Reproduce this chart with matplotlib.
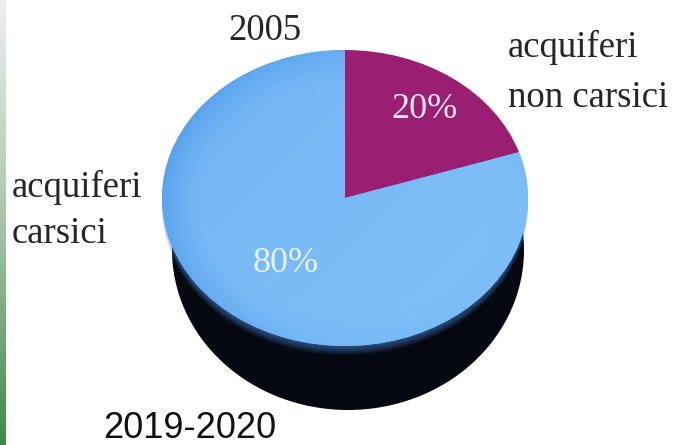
import numpy as np
import matplotlib
matplotlib.use("Agg")
import matplotlib.pyplot as plt
from matplotlib.patches import Ellipse
from matplotlib.colors import LinearSegmentedColormap

# Data
categories = ["acquiferi non carsici", "acquiferi carsici"]
values = [20, 80]
year_label = "2005"
period_label = "2019-2020"

W, H = 677, 445
fig = plt.figure(figsize=(W / 100, H / 100), dpi=100)
fig.patch.set_facecolor("white")

# Background layer in pixel coordinates: side strip and texts
bg = fig.add_axes([0, 0, 1, 1])
bg.set_xlim(0, W)
bg.set_ylim(H, 0)
bg.axis("off")

# green vertical strip at the left edge
strip_cmap = LinearSegmentedColormap.from_list("strip", ["#eef0ee", "#a9c4a9", "#3d8a45"])
grad = np.linspace(0, 1, 256).reshape(-1, 1)
bg.imshow(grad, cmap=strip_cmap, extent=(0, 6, H, 0), aspect="auto", zorder=1)

# Pie geometry (pixels): top face centre/radii and the base outline
cx, cy, rx, ry = 345, 198, 183, 148
bx, by, brx, bry = 348, 250, 176, 160
bottom = by + bry
pax = fig.add_axes([(cx - rx) / W, 1 - bottom / H,
                    2 * rx / W, (bottom - (cy - ry)) / H])
pax.patch.set_alpha(0)

magenta = "#9a1f73"
blue = "#74b6f5"
side = "#060912"

wedges, _ = pax.pie(values, colors=[magenta, blue], startangle=90,
                    counterclock=False, radius=1,
                    wedgeprops=dict(linewidth=0))
for w in wedges:
    w.set_zorder(4)
pax.set_aspect("auto")
ylo = -(bottom - cy) / ry

# cylinder side, seen below the top face
base = Ellipse(((bx - cx) / rx, -(by - cy) / ry), 2 * brx / rx, 2 * bry / ry,
               facecolor=side, edgecolor="none", zorder=1)
pax.add_patch(base)
# soft bluish glow where the top face meets the side
for k in range(1, 7):
    pax.add_patch(Ellipse((0, -k * 0.01), 2, 2, facecolor="#4a88d6",
                          edgecolor="none", alpha=0.11, zorder=2))

# gentle shading on the blue top surface
n = 300
xx, yy = np.meshgrid(np.linspace(-1, 1, n), np.linspace(1, -1, n))
rr = np.sqrt(xx ** 2 + yy ** 2)
shade = np.clip(0.64 + 0.12 * xx - 0.10 * yy - 0.30 * np.clip(rr - 0.8, 0, None) / 0.2
                * (0.6 - 0.4 * xx), 0, 1)
blue_cmap = LinearSegmentedColormap.from_list("b", ["#4895e6", "#74b6f5", "#88c6fa"])
im = pax.imshow(shade, cmap=blue_cmap, extent=(-1, 1, -1, 1), aspect="auto",
                zorder=4.5, vmin=0, vmax=1)
im.set_clip_path(wedges[1])
pax.set_xlim(-1, 1)
pax.set_ylim(ylo, 1)
pax.axis("off")

# percentage labels placed along each wedge's mid angle
pct_dist = [0.74, 0.55]
pct_colors = ["#f3e2f0", "#e6f3fb"]
for w, v, r, c in zip(wedges, values, pct_dist, pct_colors):
    ang = np.deg2rad((w.theta1 + w.theta2) / 2)
    pax.text(r * np.cos(ang), r * np.sin(ang), f"{v}%", ha="center", va="center",
             fontsize=26, family="Liberation Serif", color=c, zorder=6)

serif = dict(family="Liberation Serif", fontsize=26.5, color="#262626", va="baseline")
bg.text(265, 40, year_label, ha="center", **serif)
right_lines = categories[0].split(" ", 1)
bg.text(508, 57, right_lines[0], ha="left", **serif)
bg.text(508, 107, right_lines[1], ha="left", **serif)
left_lines = categories[1].split(" ", 1)
bg.text(12, 197, left_lines[0], ha="left", **serif)
bg.text(12, 243, left_lines[1], ha="left", **serif)

bg.text(190, 438, period_label, ha="center", va="baseline",
        family="Liberation Sans", fontsize=26, color="#111111")

fig.savefig("out.png", dpi=100, facecolor="white")
